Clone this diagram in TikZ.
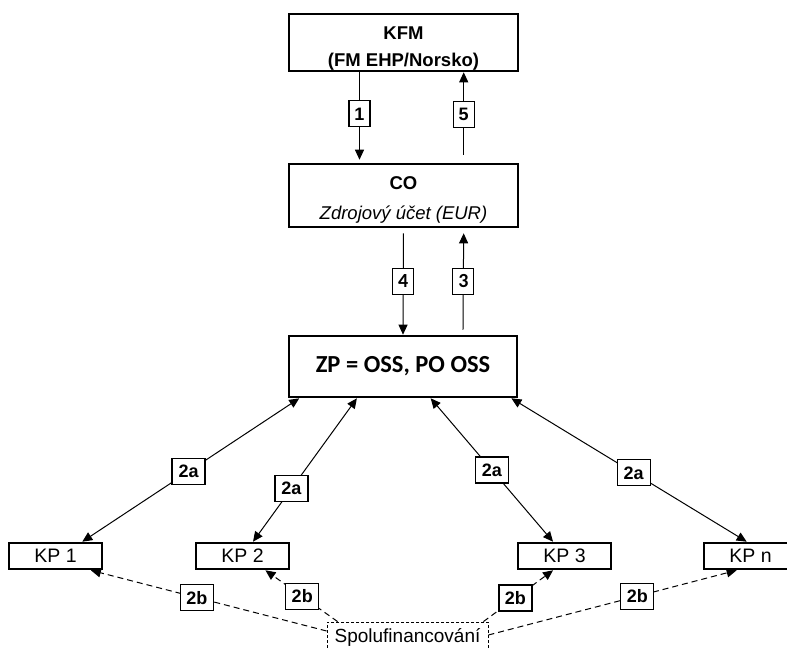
\documentclass[tikz,border=0pt]{standalone}
\usepackage{fontspec}
\setmainfont{Liberation Sans}
\newfontfamily\calibri{Carlito}
\usetikzlibrary{arrows.meta,calc}

\begin{document}
\begin{tikzpicture}
  [x=1pt,y=-1pt,
   box/.style={draw,line width=2.6pt,minimum width=229pt,inner sep=0pt,font=\fontsize{18.5}{27}\selectfont},
   kp/.style={draw,line width=2.6pt,minimum width=93pt,minimum height=26pt,inner sep=0pt,font=\fontsize{19.5}{22}\selectfont},
   lbl/.style={draw,solid,fill=white,line width=1.2pt,inner sep=0pt,minimum height=26pt,minimum width=21pt,font=\bfseries\fontsize{18}{20}\selectfont},
   flow/.style={line width=1pt,-{Triangle[length=10pt,width=9pt]}},
   both/.style={line width=1pt,{Triangle[length=10pt,width=9pt]}-{Triangle[length=10pt,width=9pt]}},
   cofin/.style={line width=1pt,dash pattern=on 6pt off 4pt,-{Triangle[length=10pt,width=9pt]}}]

  \useasboundingbox (0,0) rectangle (787,650);

  \node[box,minimum height=57pt] (kfm) at (403.5,42.5)
    {\raisebox{-5.5pt}[\height][\depth]{\begin{tabular}{@{}c@{}}\bfseries KFM\\\bfseries (FM EHP/Norsko)\end{tabular}}};
  \node[box,minimum height=63pt] (co) at (403.5,195.5)
    {\raisebox{-3.5pt}[\height][\depth]{\begin{tabular}{@{}c@{}}\bfseries CO\\[3pt]\itshape Zdrojový účet (EUR)\end{tabular}}};
  \node[box,minimum width=228pt,minimum height=61pt,font=\calibri\bfseries\fontsize{24.5}{27}\selectfont] (zp) at (403,366.5) {ZP = OSS, PO OSS};

  \node[kp] (kp1) at (55.5,556) {KP 1};
  \node[kp] (kp2) at (242.5,556) {KP 2};
  \node[kp] (kp3) at (564.5,556) {KP 3};
  \node[kp] (kpn) at (750.5,556) {KP n};

  \node[draw,dash pattern=on 3pt off 2pt,line width=0.8pt,minimum width=161pt,minimum height=30pt,inner sep=0pt,font=\fontsize{19}{22}\selectfont] (spolu) at (407.5,637) {Spolufinancování};

  % KFM <-> CO
  \draw[flow,shorten >=3pt] ($(kfm.south west)!0.31!(kfm.south east)$) -- node[lbl,pos=0.46] {1} ($(co.north west)!0.31!(co.north east)$);
  \draw[flow,shorten <=8pt] ($(co.north west)!0.76!(co.north east)$) -- node[lbl,pos=0.53] {5} ($(kfm.south west)!0.76!(kfm.south east)$);

  % CO <-> ZP
  \draw[flow,shorten <=5pt] (co.south) -- node[lbl,pos=0.5,font=\calibri\bfseries\fontsize{20}{20}\selectfont] {4} (zp.north);
  \draw[flow,shorten <=5pt,shorten >=5pt] ($(zp.north west)!0.76!(zp.north east)$) -- node[lbl,pos=0.5,font=\calibri\bfseries\fontsize{20}{20}\selectfont] {3} ($(co.south west)!0.76!(co.south east)$);

  % ZP <-> KP
  \foreach \k/\f/\g/\p in {kp1/0.05/0.78/0.51, kp2/0.30/0.61/0.63, kp3/0.62/0.38/0.5, kpn/0.97/0.46/0.52}
    \draw[both] ($(zp.south west)!\f!(zp.south east)$) -- node[lbl,pos=\p,minimum width=33pt] {2a} ($(\k.north west)!\g!(\k.north east)$);

  % spolufinancovani
  \coordinate (s1) at ([yshift=6pt]spolu.west);
  \coordinate (s2) at ([xshift=11pt]spolu.north west);
  \coordinate (s3) at ([xshift=-5pt]spolu.north east);
  \coordinate (s4) at ([yshift=2pt]spolu.east);
  \foreach \s/\k/\g/\p in {s1/kp1/0.87/0.55, s2/kp2/0.74/0.49, s3/kp3/0.38/0.46, s4/kpn/0.355/0.6}
    \draw[cofin] (\s) -- node[lbl,pos=\p,minimum width=33pt] {2b} ($(\k.south west)!\g!(\k.south east)$);
\end{tikzpicture}
\end{document}
